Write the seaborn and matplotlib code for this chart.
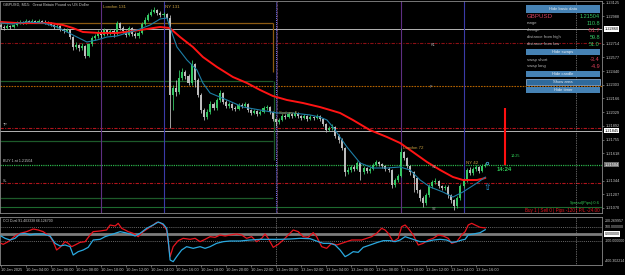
import numpy as np
import pandas as pd
import matplotlib
matplotlib.use("Agg")
import matplotlib.pyplot as plt
import matplotlib.transforms as mtransforms
from matplotlib.patches import Rectangle
import seaborn as sns

# ---------------- data (GBPUSD M15) ----------------
bar_open = [
1.2290, 1.2288, 1.2287, 1.2289, 1.2288, 1.2290, 1.2292, 1.2293, 1.2292, 1.2294,
1.2293, 1.2294, 1.2293, 1.2294, 1.2293, 1.2293, 1.2292, 1.2290, 1.2288, 1.2289,
1.2286, 1.2284, 1.2285, 1.2278, 1.2268, 1.2270, 1.2267, 1.2269, 1.2259, 1.2271,
1.2277, 1.2279, 1.2283, 1.2280, 1.2285, 1.2282, 1.2284, 1.2281, 1.2292, 1.2287,
1.2284, 1.2280, 1.2287, 1.2281, 1.2279, 1.2282, 1.2291, 1.2295, 1.2300, 1.2303,
1.2305, 1.2302, 1.2300, 1.2301, 1.2297, 1.2220, 1.2227, 1.2223, 1.2237, 1.2243,
1.2239, 1.2232, 1.2251, 1.2235, 1.2220, 1.2205, 1.2198, 1.2203, 1.2211, 1.2207,
1.2215, 1.2222, 1.2213, 1.2209, 1.2211, 1.2207, 1.2206, 1.2210, 1.2209, 1.2211,
1.2205, 1.2202, 1.2204, 1.2201, 1.2203, 1.2207, 1.2208, 1.2203, 1.2196, 1.2193,
1.2195, 1.2199, 1.2198, 1.2201, 1.2199, 1.2202, 1.2199, 1.2197, 1.2199, 1.2196,
1.2198, 1.2197, 1.2199, 1.2196, 1.2191, 1.2185, 1.2187, 1.2188, 1.2179, 1.2175,
1.2167, 1.2143, 1.2145, 1.2148, 1.2146, 1.2152, 1.2143, 1.2147, 1.2144, 1.2146,
1.2150, 1.2153, 1.2151, 1.2149, 1.2146, 1.2145, 1.2130, 1.2135, 1.2139, 1.2163,
1.2157, 1.2149, 1.2143, 1.2137, 1.2125, 1.2117, 1.2112, 1.2120, 1.2129, 1.2133,
1.2134, 1.2129, 1.2127, 1.2128, 1.2120, 1.2115, 1.2109, 1.2117, 1.2129, 1.2135,
1.2145, 1.2142, 1.2146, 1.2148, 1.2144, 1.2149]

bar_close = [
1.2288, 1.2287, 1.2289, 1.2288, 1.2290, 1.2292, 1.2293, 1.2292, 1.2294, 1.2293,
1.2294, 1.2293, 1.2294, 1.2293, 1.2293, 1.2292, 1.2290, 1.2288, 1.2289, 1.2286,
1.2284, 1.2285, 1.2278, 1.2268, 1.2270, 1.2267, 1.2269, 1.2259, 1.2271, 1.2277,
1.2279, 1.2283, 1.2280, 1.2285, 1.2282, 1.2284, 1.2281, 1.2292, 1.2287, 1.2284,
1.2280, 1.2287, 1.2281, 1.2279, 1.2282, 1.2291, 1.2295, 1.2300, 1.2303, 1.2305,
1.2302, 1.2300, 1.2301, 1.2297, 1.2220, 1.2227, 1.2223, 1.2237, 1.2243, 1.2239,
1.2232, 1.2251, 1.2235, 1.2220, 1.2205, 1.2198, 1.2203, 1.2211, 1.2207, 1.2215,
1.2222, 1.2213, 1.2209, 1.2211, 1.2207, 1.2206, 1.2210, 1.2209, 1.2211, 1.2205,
1.2202, 1.2204, 1.2201, 1.2203, 1.2207, 1.2208, 1.2203, 1.2196, 1.2193, 1.2195,
1.2199, 1.2198, 1.2201, 1.2199, 1.2202, 1.2199, 1.2197, 1.2199, 1.2196, 1.2198,
1.2197, 1.2199, 1.2196, 1.2191, 1.2185, 1.2187, 1.2188, 1.2179, 1.2175, 1.2167,
1.2143, 1.2145, 1.2148, 1.2146, 1.2152, 1.2143, 1.2147, 1.2144, 1.2146, 1.2150,
1.2153, 1.2151, 1.2149, 1.2146, 1.2145, 1.2130, 1.2135, 1.2139, 1.2163, 1.2157,
1.2149, 1.2143, 1.2137, 1.2125, 1.2117, 1.2112, 1.2120, 1.2129, 1.2133, 1.2134,
1.2129, 1.2127, 1.2128, 1.2120, 1.2115, 1.2109, 1.2117, 1.2129, 1.2135, 1.2145,
1.2142, 1.2146, 1.2148, 1.2144, 1.2149, 1.2150]

bar_high = [
1.2292, 1.2290, 1.2291, 1.2290, 1.2291, 1.2294, 1.2295, 1.2294, 1.2296, 1.2295,
1.2296, 1.2295, 1.2296, 1.2295, 1.2295, 1.2294, 1.2293, 1.2291, 1.2291, 1.2290,
1.2287, 1.2287, 1.2286, 1.2279, 1.2273, 1.2271, 1.2272, 1.2270, 1.2272, 1.2279,
1.2281, 1.2285, 1.2285, 1.2287, 1.2286, 1.2286, 1.2286, 1.2294, 1.2293, 1.2289,
1.2285, 1.2289, 1.2288, 1.2283, 1.2284, 1.2293, 1.2298, 1.2302, 1.2306, 1.2308,
1.2306, 1.2304, 1.2303, 1.2302, 1.2300, 1.2230, 1.2235, 1.2245, 1.2247, 1.2245,
1.2241, 1.2255, 1.2252, 1.2237, 1.2222, 1.2207, 1.2206, 1.2214, 1.2213, 1.2217,
1.2225, 1.2223, 1.2215, 1.2213, 1.2212, 1.2209, 1.2212, 1.2212, 1.2213, 1.2212,
1.2206, 1.2206, 1.2205, 1.2205, 1.2209, 1.2210, 1.2209, 1.2204, 1.2197, 1.2197,
1.2201, 1.2201, 1.2203, 1.2202, 1.2204, 1.2203, 1.2200, 1.2201, 1.2200, 1.2200,
1.2199, 1.2201, 1.2200, 1.2197, 1.2192, 1.2189, 1.2191, 1.2189, 1.2181, 1.2177,
1.2168, 1.2148, 1.2150, 1.2150, 1.2154, 1.2153, 1.2149, 1.2148, 1.2148, 1.2152,
1.2155, 1.2154, 1.2152, 1.2150, 1.2148, 1.2146, 1.2137, 1.2141, 1.2167, 1.2164,
1.2158, 1.2150, 1.2144, 1.2138, 1.2126, 1.2119, 1.2122, 1.2131, 1.2135, 1.2137,
1.2135, 1.2130, 1.2130, 1.2130, 1.2121, 1.2116, 1.2119, 1.2131, 1.2137, 1.2147,
1.2148, 1.2148, 1.2150, 1.2149, 1.2151, 1.2152]

bar_low = [
1.2286, 1.2285, 1.2286, 1.2286, 1.2287, 1.2289, 1.2291, 1.2291, 1.2291, 1.2292,
1.2292, 1.2292, 1.2292, 1.2292, 1.2291, 1.2290, 1.2289, 1.2286, 1.2287, 1.2284,
1.2282, 1.2283, 1.2276, 1.2265, 1.2266, 1.2264, 1.2265, 1.2257, 1.2258, 1.2269,
1.2275, 1.2277, 1.2277, 1.2279, 1.2280, 1.2280, 1.2278, 1.2280, 1.2285, 1.2282,
1.2278, 1.2279, 1.2279, 1.2277, 1.2277, 1.2281, 1.2290, 1.2294, 1.2299, 1.2302,
1.2300, 1.2298, 1.2298, 1.2295, 1.2187, 1.2205, 1.2219, 1.2221, 1.2235, 1.2236,
1.2230, 1.2230, 1.2228, 1.2218, 1.2202, 1.2195, 1.2196, 1.2201, 1.2205, 1.2205,
1.2213, 1.2211, 1.2207, 1.2207, 1.2205, 1.2204, 1.2205, 1.2207, 1.2208, 1.2203,
1.2200, 1.2201, 1.2199, 1.2200, 1.2202, 1.2205, 1.2201, 1.2194, 1.2189, 1.2191,
1.2194, 1.2196, 1.2197, 1.2197, 1.2198, 1.2197, 1.2195, 1.2196, 1.2194, 1.2195,
1.2195, 1.2196, 1.2194, 1.2189, 1.2183, 1.2184, 1.2185, 1.2177, 1.2172, 1.2165,
1.2139, 1.2141, 1.2143, 1.2144, 1.2145, 1.2135, 1.2141, 1.2142, 1.2142, 1.2145,
1.2149, 1.2149, 1.2147, 1.2144, 1.2143, 1.2127, 1.2128, 1.2133, 1.2138, 1.2155,
1.2147, 1.2140, 1.2123, 1.2122, 1.2114, 1.2108, 1.2110, 1.2118, 1.2127, 1.2131,
1.2127, 1.2125, 1.2125, 1.2117, 1.2112, 1.2105, 1.2107, 1.2115, 1.2127, 1.2133,
1.2140, 1.2140, 1.2144, 1.2142, 1.2143, 1.2148]

# moving averages (bar index, price)
ma_slow_bar = [0, 5.1, 10.2, 15.7, 19.8, 23, 26.2, 31.7, 37.1, 42.2, 46.7, 50.9, 54, 57.3,
               61.4, 64.6, 69.1, 74.2, 78.7, 82.9, 87, 91.5, 96.6, 102, 105.3, 108.5, 112.6,
               118, 123.5, 127.7, 131.8, 136.3, 140.5, 144.6, 147.8, 152.3, 155]
ma_slow_val = [1.2293, 1.2292, 1.2292, 1.2292, 1.2290, 1.2287, 1.2283, 1.2282, 1.2282, 1.2284,
               1.2286, 1.2288, 1.2287, 1.2278, 1.2268, 1.2258, 1.2248, 1.2238, 1.2232, 1.2225,
               1.2219, 1.2215, 1.2212, 1.2208, 1.2205, 1.2202, 1.2195, 1.2185, 1.2178, 1.2172,
               1.2163, 1.2153, 1.2145, 1.2138, 1.2135, 1.2135, 1.2137]
ma_fast_bar = [0, 3.8, 8.3, 13.4, 17.9, 21.1, 24.3, 27.5, 30.7, 33.9, 37.1, 40.3, 44.5, 47.7,
               50.9, 53.1, 54.7, 56.3, 59.5, 62.7, 64.6, 66.9, 72.3, 77.4, 82.9, 88.3, 93.4,
               98.9, 102, 104.3, 106.2, 110.7, 114.9, 119, 123.5, 127.7, 130.9, 134.1, 137.3,
               141.4, 144.6, 147.8, 152.3, 155]
ma_fast_val = [1.2292, 1.2291, 1.2293, 1.2292, 1.2288, 1.2283, 1.2278, 1.2273, 1.2275, 1.2278,
               1.2279, 1.2282, 1.2286, 1.2290, 1.2296, 1.2297, 1.2282, 1.2268, 1.2255, 1.2245,
               1.2232, 1.2222, 1.2215, 1.2208, 1.2205, 1.2202, 1.2202, 1.2200, 1.2198, 1.2195,
               1.2188, 1.2168, 1.2152, 1.2147, 1.2147, 1.2148, 1.2145, 1.2135, 1.2128, 1.2123,
               1.2118, 1.2123, 1.2132, 1.2138]

# CCI Dual (bar index, value)
cci_fast_bar = [0, 0.7, 2.3, 4.5, 6.1, 8.2, 10.3, 11.9, 13.5, 15.7, 16.7, 17.8, 18.9, 20.5, 21.5,
                22.6, 23.7, 25.3, 26.9, 28.5, 29.5, 31.7, 33.8, 34.9, 36.5, 37.5, 38.6, 39.7,
                40.7, 42.3, 43.9, 45.5, 47.1, 48.7, 49.8, 50.9, 51.9, 53.0, 54.1, 55.1, 56.7,
                58.3, 60.5, 62.1, 63.7, 65.3, 66.9, 68.5, 70.1, 71.7, 73.3, 75.4, 77.0, 78.6,
                80.2, 81.8, 83.4, 84.5, 85.5, 87.1, 88.7, 90.3, 91.9, 93.5, 95.1, 96.7, 98.3,
                99.9, 101.0, 102.6, 104.2, 105.8, 107.4, 109.0, 110.6, 112.2, 113.8, 115.4,
                117.0, 118.6, 120.2, 121.8, 122.9, 123.9, 125.5, 127.1, 128.2, 129.3, 130.3,
                131.9, 133.5, 135.1, 136.7, 138.3, 139.9, 141.5, 143.1, 144.2, 145.8, 147.4,
                148.5, 149.5, 150.6, 151.7, 153.3, 155.0]
cci_fast_val = [-140, -155, -115, -30, 10, 35, 75, 60, 35, -40, -115, -240, -200, -115, -140,
                -190, -165, -125, -115, -15, 35, 45, 60, 135, 120, 160, 85, 60, 35, 10, -40,
                35, 85, 135, 175, 170, 135, 60, -340, -190, -100, -65, -80, -65, -115, -80,
                -40, -50, -15, -30, -15, 0, -15, -65, -40, -115, -65, 0, -65, -200, -155, -90,
                -15, 60, 35, -40, -50, 20, -40, -190, -215, -140, -165, -140, -115, -90, -90,
                -90, -65, -40, 10, 85, 60, 10, -115, -65, 110, 135, 85, -15, -165, -140, -90,
                -65, -15, -30, -65, -140, -115, -15, 35, 135, 160, 135, 100, 91]
cci_slow_bar = [0, 1.3, 2.9, 4.5, 6.1, 7.7, 9.3, 10.9, 13.5, 15.7, 17.3, 18.9, 20.5, 22.1, 23.1,
                24.7, 26.3, 27.9, 29.5, 31.7, 33.3, 34.9, 36.5, 38.1, 39.7, 41.3, 42.9, 44.5,
                46.6, 48.7, 50.3, 51.9, 53.0, 53.5, 54.1, 55.1, 56.2, 57.8, 59.4, 61.5, 63.7,
                65.3, 66.9, 69.0, 71.1, 73.3, 76.5, 79.7, 82.9, 86.1, 89.3, 92.5, 95.7, 98.9,
                101.5, 103.1, 105.3, 106.9, 108.5, 110.1, 111.1, 112.7, 114.3, 115.9, 118.1,
                120.2, 122.3, 124.5, 126.1, 127.7, 129.3, 130.9, 132.5, 134.1, 136.2, 138.3,
                140.5, 142.6, 144.2, 145.8, 147.4, 148.5, 149.5, 151.1, 153.3, 155.0]
cci_slow_val = [-30, -65, -90, -65, 0, 10, -15, 0, 0, -30, -140, -180, -165, -190, -315, -265,
                -240, -200, -90, -80, -40, -15, 10, 35, 20, 0, -30, 10, 85, 135, 180, 150, 85,
                -90, -390, -415, -340, -240, -190, -215, -190, -215, -190, -140, -115, -105,
                -105, -90, -80, -80, -80, -75, -65, -70, -115, -140, -140, -165, -240, -340,
                -315, -265, -275, -200, -165, -130, -100, -100, -115, -90, -40, -65, -90, -115,
                -115, -90, -80, -90, -125, -115, -90, -80, -15, 0, 20, 66]

time_tick_bars = [0, 8, 16, 24, 32, 40, 48, 56, 64, 72, 80, 88, 96, 104, 112, 120, 128, 136, 144, 152]
time_tick_labels = ["10 Jan 2025", "10 Jan 04:00", "10 Jan 06:00", "10 Jan 08:00", "10 Jan 10:00",
                    "10 Jan 12:00", "10 Jan 14:00", "10 Jan 16:00", "10 Jan 18:00", "10 Jan 20:00",
                    "10 Jan 22:00", "13 Jan 00:00", "13 Jan 02:00", "13 Jan 04:00", "13 Jan 06:00",
                    "13 Jan 08:00", "13 Jan 10:00", "13 Jan 12:00", "13 Jan 14:00", "13 Jan 16:00"]
price_ticks = [1.21070, 1.21207, 1.21344, 1.21618, 1.21755, 1.21892, 1.22029, 1.22166,
               1.22303, 1.22440, 1.22577, 1.22714, 1.22988, 1.23125]

# session lines (bar index) and labels
session_bars = [32, 52, 128, 148]
session_names = ["London 131", "NY 131", "London 72", "NY 42"]
session_colors = ["#5e2f82", "#3b3ba8", "#5e2f82", "#3b3ba8"]

# horizontal levels
level_bid = 1.21504
level_tp = 1.2187
level_sl = 1.2132
level_white = [1.2286, 1.21845]
level_r1 = 1.22725
level_pivot = 1.22295
level_s2 = 1.2108
prevday_orange = 1.2292
prevday_green = [1.22345, 1.2174, 1.2117]

info_labels = ["range", "change", "distance from high", "distance from low"]
info_values = ["110.8", "-51.7", "59.8", "51.0"]
swap_labels = ["swap short", "swap long"]
swap_values = ["-3.4", "-4.9"]

# ---------------- figure ----------------
sns.set_theme(style="dark")
plt.rcParams['font.family'] = ['Liberation Sans', 'DejaVu Sans']

W, H = 625, 275
fig = plt.figure(figsize=(6.25, 2.75), dpi=100, facecolor='black')


def frac(x0, y0, x1, y1):
    return [x0 / W, 1 - y1 / H, (x1 - x0) / W, (y1 - y0) / H]


ax = fig.add_axes(frac(0, 1, 602, 213))
axc = fig.add_axes(frac(0, 217, 602, 265))
for a in (ax, axc):
    a.set_facecolor('black')
    for s in a.spines.values():
        s.set_color('#8a8a8a')
        s.set_linewidth(0.6)
    a.grid(False)

XL = (-0.32, 192.3)
ax.set_xlim(*XL)
axc.set_xlim(*XL)
ax.set_ylim(1.2102, 1.2314)
axc.set_ylim(-465, 255)

GRAY = '#bcbcbc'
TXT = '#c8c8c8'

# levels
ax.axhline(level_white[0], color='#b4b4b4', lw=0.7, zorder=1)
ax.axhline(level_white[1], color='#b4b4b4', lw=0.7, zorder=1)
ax.axhline(level_r1, color='#8a0f14', lw=0.8, ls=(0, (3, 1.2, 1, 1.2)), zorder=1)
ax.axhline(level_pivot, color='#b36200', lw=0.8, ls=(0, (1.5, 1)), zorder=1)
ax.axhline(level_tp, color='#b0141c', lw=0.8, ls=(0, (3, 1.2, 1, 1.2)), zorder=1)
ax.axhline(level_bid, color='#2bb34a', lw=0.9, ls=(0, (1, 0.8)), zorder=1)
ax.axhline(level_sl, color='#b0141c', lw=0.8, ls=(0, (3, 1.2, 1, 1.2)), zorder=1)
ax.axhline(level_s2, color='#1d6a2e', lw=0.8, zorder=1)
ax.hlines(prevday_orange, XL[0], 87, color='#8c5a12', lw=0.9, zorder=1)
ax.vlines(87, 1.2243, prevday_orange, color='#8c5a12', lw=0.9, zorder=1)
ax.hlines(prevday_green, XL[0], 87, color='#1d5a2a', lw=0.9, zorder=1)
ax.vlines(87.4, 1.2155, prevday_green[0], color='#1d5a2a', lw=0.9, zorder=1)

# vertical lines
for b, c in zip(session_bars, session_colors):
    ax.axvline(b, color=c, lw=0.8, zorder=1)
ax.axvline(88, color='#7a7aff', lw=0.7, ls=(0, (1, 1)), zorder=1)
ax.axvline(88.2, color='#d080c0', lw=0.5, ls=(1, (1, 1)), zorder=1)
ax.axvline(184, color='#bdbdbd', lw=0.5, ls=(0, (1, 1.5)), zorder=1)
axc.axvline(88, color='#bdbdbd', lw=0.5, ls=(0, (1, 1.5)), zorder=1)
axc.axvline(184, color='#bdbdbd', lw=0.5, ls=(0, (1, 1.5)), zorder=1)
ax.vlines(161.3, level_bid, 1.2207, color='#ff1010', lw=1.5, zorder=5)

# candles
bars = pd.DataFrame({'i': np.arange(len(bar_open)), 'o': bar_open, 'h': bar_high,
                     'l': bar_low, 'c': bar_close})
bull = bars['c'] > bars['o']
cols = np.where(bull, '#35c764', GRAY)
ax.vlines(bars['i'], bars['l'], bars['h'], colors=cols, lw=0.6, zorder=3)
body_lo = np.minimum(bars['o'], bars['c'])
body_h = np.maximum((bars['c'] - bars['o']).abs(), 0.00004)
ax.bar(bars['i'], body_h, bottom=body_lo, width=0.66, color=cols, linewidth=0, zorder=4)

# moving averages
sns.lineplot(x=ma_slow_bar, y=ma_slow_val, ax=ax, color='#ff1414', lw=1.4, zorder=6, estimator=None)
sns.lineplot(x=ma_fast_bar, y=ma_fast_val, ax=ax, color='#1d7ea6', lw=0.8, zorder=6, estimator=None)

# CCI
axc.axhline(0, color='#7c7c7c', lw=2.0, zorder=1)
axc.axhline(100, color='#8a8a8a', lw=0.5, ls=(0, (1.5, 1.5)), zorder=1)
axc.axhline(-100, color='#8a8a8a', lw=0.5, ls=(0, (1.5, 1.5)), zorder=1)
sns.lineplot(x=cci_fast_bar, y=cci_fast_val, ax=axc, color='#e8141e', lw=0.9, zorder=3, estimator=None)
sns.lineplot(x=cci_slow_bar, y=cci_slow_val, ax=axc, color='#2aa9e0', lw=0.9, zorder=4, estimator=None)

# axes ticks
ax.set_xticks([])
ax.set_xlabel('')
ax.set_ylabel('')
ax.yaxis.tick_right()
ax.set_yticks(price_ticks)
ax.set_yticklabels([f"{p:.5f}" for p in price_ticks])
ax.tick_params(axis='y', colors='#8a8a8a', labelcolor=TXT, labelsize=2.8, length=1.5,
               width=0.5, pad=1.2, right=True, left=False)
axc.set_yticks([])
axc.set_ylabel('')
axc.set_xticks(time_tick_bars)
axc.set_xticklabels(time_tick_labels)
for lab in axc.get_xticklabels():
    lab.set_ha('left')
axc.tick_params(axis='x', colors='#8a8a8a', labelcolor=TXT, labelsize=2.8, length=1.5,
                width=0.5, pad=1.0, bottom=True)

# price boxes
tr = mtransforms.blended_transform_factory(ax.transAxes, ax.transData)
for p in level_white:
    ax.text(1.004, p, f"{p:.5f}", transform=tr, fontsize=2.8, color='black', va='center',
            ha='left', zorder=10, clip_on=False,
            bbox=dict(boxstyle='square,pad=0.2', fc='white', ec='none'))
ax.text(1.004, level_bid, f"{level_bid:.5f}", transform=tr, fontsize=2.8, color='white',
        va='center', ha='left', zorder=10, clip_on=False,
        bbox=dict(boxstyle='square,pad=0.2', fc='#6e6e6e', ec='none'))

trc = mtransforms.blended_transform_factory(axc.transAxes, axc.transData)
for v, s in [(200.27, "200.269957"), (100, "100.000000"), (-100, "-100.000000"), (-400.3, "-400.302214")]:
    axc.text(1.005, v, s, transform=trc, fontsize=2.6, color=TXT, va='center', ha='left', clip_on=False)
axc.text(1.004, 0, "0.000000", transform=trc, fontsize=2.6, color='black', va='center', ha='left',
         clip_on=False, bbox=dict(boxstyle='square,pad=0.2', fc='white', ec='none'))

# ---------------- overlay (pixel coords) ----------------
ov = fig.add_axes([0, 0, 1, 1], zorder=20)
ov.set_xlim(0, W)
ov.set_ylim(H, 0)
ov.axis('off')
ov.patch.set_alpha(0)


def t(x, y, s, size, color, ha='left', va='center', **kw):
    ov.text(x, y, s, fontsize=size, color=color, ha=ha, va=va, **kw)


t(3, 5, "GBPUSD, M15:  Great Britain Pound vs US Dollar", 2.8, TXT)
t(3, 221, "CCI Dual 91.403338 66.126700", 2.5, TXT)
t(3, 125.5, "TP", 2.7, TXT)
t(3, 161.5, "BUY 1 at 1.21504", 2.7, TXT)
t(3, 180.5, "SL", 2.7, TXT)

sess_px = [(103, 7), (165, 7), (403, 148), (466, 162.5)]
for (x, y), name in zip(sess_px, session_names):
    t(x, y, name, 3.2, '#c9a041')
t(279, 113, "Sydney 6", 3.2, '#b89030')
t(431, 45, "R1", 2.7, '#a8a8a8')
t(430, 87.5, "P", 2.7, '#a8a8a8')
t(432, 167, "S1", 2.7, '#a8a8a8')
t(432, 209, "S2", 2.7, '#a8a8a8')

t(497, 169.5, "14:24", 4.2, '#2ecc55', fontweight='bold')
t(511, 156, "14:25", 2.7, '#2ecc55')
t(487, 187, "\u21e7", 6.5, '#2f9fd8', ha='center', family='DejaVu Sans')
ov.plot([486.5], [163], marker='o', ms=1.8, mfc='none', mec='#4fc3f7', mew=0.5)

t(600, 203, "Spread(Pips):0.6", 2.9, '#33cc55', ha='right')
t(600, 210.5, "Buy 1 | Sell 0 | Pips -120 | P/L -24.00", 3.3, '#e0141e', ha='right')

# info panel
BTN = '#4682b4'


def button(y0, y1, label, fc=BTN, ec='none'):
    ov.add_patch(Rectangle((526, y0), 74, y1 - y0, fc=fc, ec=ec, lw=0.5))
    t(563, (y0 + y1) / 2 + 0.2, label, 3.0, '#e6eef6', ha='center')


button(5, 12.5, "Hide basic data")
t(527, 16.2, "GBPUSD", 4.4, '#d2405e')
t(600, 16.2, "1.21504", 4.0, '#35c764', ha='right')
info_y = [23.3, 30.0, 37.2, 44.0]
info_cols = ['#35c764', '#e0405a', '#35c764', '#35c764']
for y, lab, val, c in zip(info_y, info_labels, info_values, info_cols):
    t(527, y, lab, 3.1, '#b4b4b4')
    t(600, y, val, 4.0, c, ha='right')
button(48.5, 55, "Hide swaps")
for y, lab, val in zip([59.5, 66.5], swap_labels, swap_values):
    t(527, y, lab, 3.1, '#b4b4b4')
    t(600, y, val, 4.0, '#e0405a', ha='right')
button(70.5, 77, "Hide candle")
button(78.5, 85, "Show area", fc='#2f6a9c', ec='#9ab8d8')
button(86.5, 93, "Hide timer")

fig.savefig("out.png", dpi=100, facecolor='black')
